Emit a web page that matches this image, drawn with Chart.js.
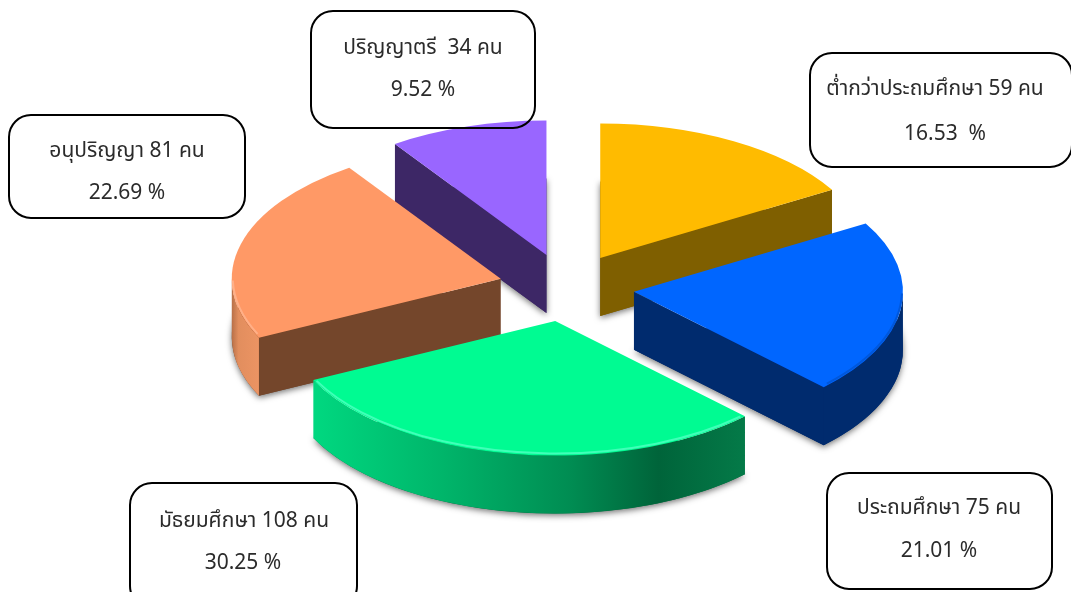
<!DOCTYPE html>
<html><head><meta charset="utf-8">
<style>html,body{margin:0;padding:0;background:#fff;overflow:hidden}canvas{display:block}</style>
<script src="https://cdn.jsdelivr.net/npm/chart.js@4/dist/chart.umd.js"></script>
</head><body>
<canvas id="c" width="1071" height="592"></canvas>
<script>
const categories = ['ต่ำกว่าประถมศึกษา','ประถมศึกษา','มัธยมศึกษา','อนุปริญญา','ปริญญาตรี'];
const counts = [59,75,108,81,34];
const percentLabels = ['16.53  %','21.01 %','30.25 %','22.69 %','9.52 %'];
const countSeparators = [' ',' ',' ',' ','  '];
const topColors = ['#FFBB00','#0066FF','#00FB92','#FF9966','#9966FF'];
const faceColors = ['#7F5F00','#002B6E','#006B3E','#74462B','#3D2766'];
const wallStops = [
  null,
  [[0,'#002B6E'],[1,'#002B6E']],
  [[0,'#00D880'],[0.3,'#00B56A'],[0.6,'#008C52'],[0.8,'#00643A'],[1,'#047A48']],
  [[0,'#B87048'],[0.25,'#E28E5E'],[1,'#EC9463']],
  null];
const rimColors = [null,'#0058DC','#40FFB8','#FFB088',null];
const boxes = [
  {x:810,y:53,w:262,h:114,cx:935,l1:91,l2:136,px:945},
  {x:827,y:473,w:225,h:116,cx:939,l1:510,l2:553,px:939},
  {x:130,y:483,w:227,h:125,cx:244,l1:523,l2:565,px:243},
  {x:9,y:115,w:236,h:103,cx:127,l1:153,l2:195,px:127},
  {x:311,y:11,w:224,h:117,cx:423,l1:50,l2:92,px:423}];

const PIE = {cx:566.5, cy:287.5, radius:269, squash:0.5, explode:68, depth:58};
const FONT = '21px "Noto Sans Thai","Noto Sans","Open Sans",sans-serif';

function sliceGeom(arc){
  const p = arc.getProps(['startAngle','endAngle','outerRadius','x','y'],true);
  const mid = (p.startAngle+p.endAngle)/2;
  const ax = PIE.cx + Math.cos(mid)*PIE.explode;
  const ay = PIE.cy + Math.sin(mid)*PIE.explode*PIE.squash;
  return {ax,ay,x:p.x,y:p.y,R:p.outerRadius,Ry:p.outerRadius*PIE.squash,a0:p.startAngle,a1:p.endAngle};
}
function capPath(ctx,g,dy){
  ctx.beginPath();
  ctx.moveTo(g.ax,g.ay+dy);
  ctx.ellipse(g.ax,g.ay+dy,g.R,g.Ry,0,g.a0,g.a1);
  ctx.closePath();
}
function face(ctx,g,angle,color){
  const ex=g.ax+Math.cos(angle)*g.R, ey=g.ay+Math.sin(angle)*g.Ry, D=PIE.depth;
  ctx.beginPath();
  ctx.moveTo(g.ax,g.ay);ctx.lineTo(ex,ey);ctx.lineTo(ex,ey+D);ctx.lineTo(g.ax,g.ay+D);ctx.closePath();
  ctx.fillStyle=color;ctx.fill();
}
function wall(ctx,g,stops){
  const lo=Math.max(g.a0,0), hi=Math.min(g.a1,Math.PI);
  if(hi<=lo||!stops) return;
  const D=PIE.depth;
  const x0=g.ax+Math.cos(hi)*g.R, x1=g.ax+Math.cos(lo)*g.R;
  const gr=ctx.createLinearGradient(x0,0,x1,0);
  stops.forEach(s=>gr.addColorStop(s[0],s[1]));
  ctx.beginPath();
  ctx.ellipse(g.ax,g.ay,g.R,g.Ry,0,lo,hi);
  ctx.ellipse(g.ax,g.ay+D,g.R,g.Ry,0,hi,lo,true);
  ctx.closePath();
  ctx.fillStyle=gr;ctx.fill();
}
const ORDER=[4,0,3,1,2];
const solid3d = {
  id:'solid3d',
  beforeDatasetDraw(chart){
    const ctx=chart.ctx, arcs=chart.getDatasetMeta(0).data;
    // extruded sides, back to front
    ORDER.forEach(i=>{
      const g=sliceGeom(arcs[i]);
      ctx.save();
      ctx.shadowColor='rgba(0,0,0,0.55)';ctx.shadowBlur=6;ctx.shadowOffsetX=0;ctx.shadowOffsetY=2;
      capPath(ctx,g,PIE.depth);ctx.fillStyle=faceColors[i];ctx.fill();
      ctx.restore();
      // start face is seen when it lies left of the apex, end face when it lies right
      if(Math.cos(g.a0)<-1e-6) face(ctx,g,g.a0,faceColors[i]);
      if(Math.cos(g.a1)>1e-6) face(ctx,g,g.a1,faceColors[i]);
      wall(ctx,g,wallStops[i]);
    });
    // top faces: the library's own arc elements, squashed and pulled out
    ORDER.forEach(i=>{
      const g=sliceGeom(arcs[i]);
      ctx.save();
      ctx.translate(g.ax,g.ay);ctx.scale(1,PIE.squash);ctx.translate(-g.x,-g.y);
      arcs[i].draw(ctx);
      ctx.restore();
      if(rimColors[i]){
        const lo=Math.max(g.a0,0), hi=Math.min(g.a1,Math.PI);
        if(hi>lo){
          ctx.save();ctx.lineWidth=2;ctx.strokeStyle=rimColors[i];
          ctx.beginPath();ctx.ellipse(g.ax,g.ay-1,g.R-1,g.Ry-1,0,lo+0.02,hi-0.02);ctx.stroke();ctx.restore();
        }
      }
    });
    return false;
  },
  afterDatasetsDraw(chart){
    const ctx=chart.ctx;
    ctx.save();
    ctx.lineWidth=2;ctx.strokeStyle='#000';
    ctx.fillStyle='#2b2b2b';ctx.font=FONT;ctx.textAlign='center';ctx.textBaseline='middle';
    boxes.forEach((b,i)=>{
      ctx.beginPath();ctx.roundRect(b.x,b.y,b.w,b.h,22);ctx.stroke();
      ctx.fillText(categories[i]+countSeparators[i]+counts[i]+' คน',b.cx,b.l1);
      ctx.fillText(percentLabels[i],b.px,b.l2);
    });
    ctx.restore();
  }
};
new Chart(document.getElementById('c'),{
  type:'pie',
  data:{labels:categories,datasets:[{data:counts,backgroundColor:topColors,borderWidth:0,offset:0}]},
  options:{responsive:false,animation:false,radius:PIE.radius,layout:{padding:0},
    plugins:{legend:{display:false},tooltip:{enabled:false}},events:[]},
  plugins:[solid3d]
});
</script>
</body></html>
